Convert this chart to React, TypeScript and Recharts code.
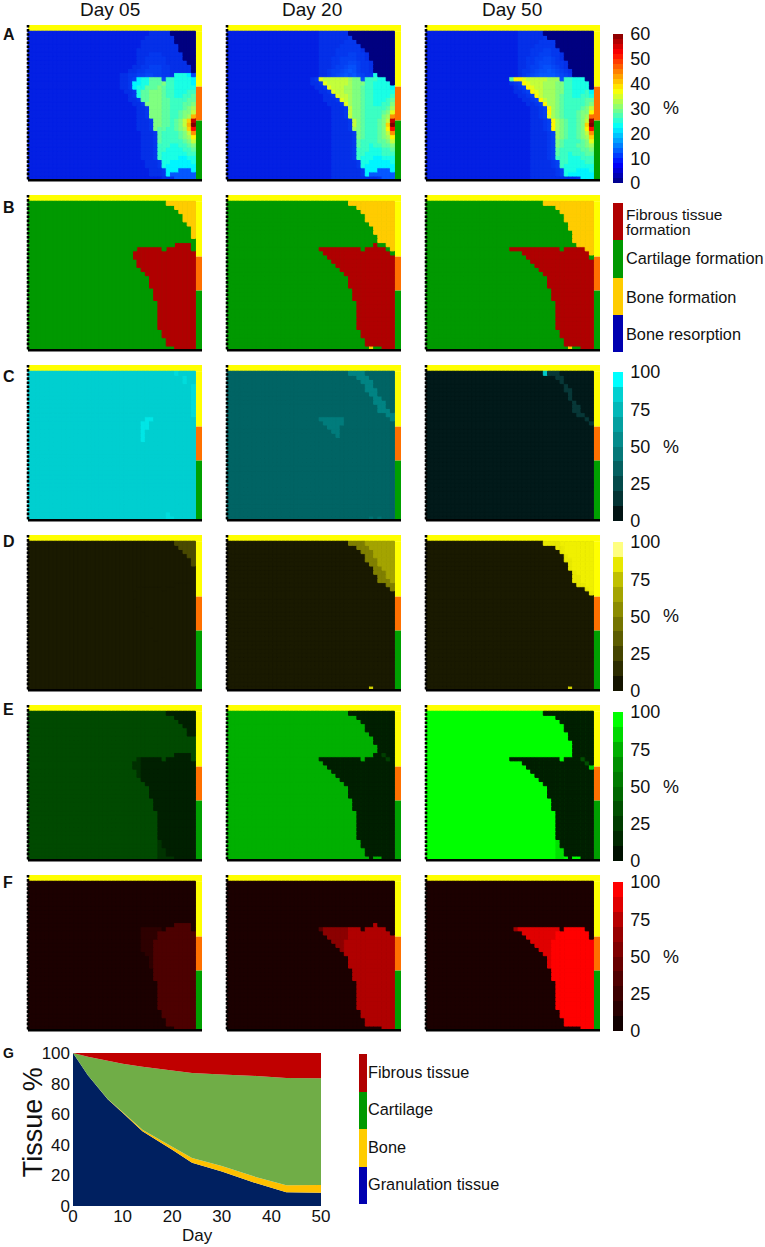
import { Area, AreaChart, Bar, BarChart, Cell, ComposedChart, ReferenceArea, XAxis, YAxis } from 'recharts';
import type { CSSProperties } from 'react';

const ROWS = 36;
const COLS = 40;
const X_MAX = 41.55;
const Y_MAX = 37.5;
const columns = Array.from({ length: COLS }, (_, i) => i);

// tissue region outlines, in grid cells, one value per column
const wedgeBottom05 = [0,0,0,0,0,0,0,0,0,0,0,0,0,0,0,0,0,0,0,0,0,0,0,0,0,22,20,19,18,15,12,5,3,1,1,0,0,0,0,0];
const wedgeTop05 = [0,0,0,0,0,0,0,0,0,0,0,0,0,0,0,0,0,0,0,0,0,0,0,0,0,24,25,25,25,25,25,25,24,25,25,26,26,26,26,24];
const cap05 = [0,0,0,0,0,0,0,0,0,0,0,0,0,0,0,0,0,0,0,0,0,0,0,0,0,0,0,0,0,0,0,0,0,1,1,2,3,5,6,9];
const capSmallD05 = [0,0,0,0,0,0,0,0,0,0,0,0,0,0,0,0,0,0,0,0,0,0,0,0,0,0,0,0,0,0,0,0,0,0,0,1,2,3,4,6];
const capSmallE05 = [0,0,0,0,0,0,0,0,0,0,0,0,0,0,0,0,0,0,0,0,0,0,0,0,0,0,0,0,0,0,0,0,0,1,1,2,3,4,6,6];

const wedgeBottom20 = [0,0,0,0,0,0,0,0,0,0,0,0,0,0,0,0,0,0,0,0,0,0,24,23,22,21,20,19,18,15,12,5,3,1,1,1,1,0,0,0];
const wedgeTop20 = [0,0,0,0,0,0,0,0,0,0,0,0,0,0,0,0,0,0,0,0,0,0,25,25,25,25,25,25,25,25,25,25,24,25,25,26,25,25,24,23];
const cap20 = [0,0,0,0,0,0,0,0,0,0,0,0,0,0,0,0,0,0,0,0,0,0,0,0,0,0,0,0,0,1,1,2,3,5,6,8,10,10,11,12];
const capInner20 = [0,0,0,0,0,0,0,0,0,0,0,0,0,0,0,0,0,0,0,0,0,0,0,0,0,0,0,0,0,0,0,0,0,1,2,4,6,7,9,10];

const wedgeBottom50 = [0,0,0,0,0,0,0,0,0,0,0,0,0,0,0,0,0,0,0,0,24,24,24,23,22,21,20,19,18,15,12,5,3,1,1,1,1,0,0,0];
const wedgeTop50 = [0,0,0,0,0,0,0,0,0,0,0,0,0,0,0,0,0,0,0,0,25,25,25,25,25,25,25,25,25,25,25,25,24,25,25,25,25,25,24,22];
const cap50 = [0,0,0,0,0,0,0,0,0,0,0,0,0,0,0,0,0,0,0,0,0,0,0,0,0,0,0,0,1,1,1,2,3,5,7,10,11,11,12,13];
const capInner50 = [0,0,0,0,0,0,0,0,0,0,0,0,0,0,0,0,0,0,0,0,0,0,0,0,0,0,0,0,0,0,0,0,1,3,4,7,8,10,11,12];

// panel A strain grids: top row first, columns 20-39, one base-36 digit = value / 2
const heat05 = [
  '44444444455555000000','44444444555555500000','44444445555555500000','44444445555555550000',
  '44444455555555550000','44444455566655555000','44444455666665555000','44444455666665555500',
  '44444556677766555550','44445566777766555550','445566778877665cccb8','445567bcceee8ddccccb',
  '44556bbcceeefddccccb','44556bcceeefeddccccc','444556ceefffeddcccdd','444456ceefffeddccdde',
  '4444556eefffeeddddee','44444556ffffeedddeef','444444556fffeedddefg','444444556fffeeddeffh',
  '444444556fffeeddefgl','4444445556ffeedefhks','4444445556ffeedefhlu','4444445556feeddefgkq',
  '44444445556eddddefhm','44444445556eddddefgj','44444445556edddddefh','44444445556dddccddef',
  '44444445556ddccccdde','44444445556dccccccdd','44444445556dccccbbcc','444444445556ccbbbbbc',
  '444444445556cbbbbbbb','4444444445556bbbaaab','4444444445556baaaaaa','444444444444555aaaaa',
];
const heat20 = [
  '44555555500000000000','44555555560000000000','44555555666000000000','44555556666600000000',
  '44555566666650000000','44555566677665000000','44555667777665000000','44555667788766500000',
  '44555677899766500000','445567789a9766500000','44556789a9a8766c0000','56ihhhhhhgff9dddcc00',
  '556ihhhhhgfffddcccc0','4556ihhhggffeddccccb','44556ihhggffeddccccc','444556ihhgffeddccccd',
  '4445556ihgffeddcccde','44445556igffeddccddf','444445556hffedddddeg','444445556hffeddddefi',
  '444445556hffeddddfgm','4444455556hfedddefhs','4444455556hfedddefku','4444455556gfedddefjq',
  '44444555556fedddefhm','44444555556fedddefgj','44444555556eddddeefh','44444555556eddcddeef',
  '44444555556dddcccdde','44444555556ddccccddd','44444555556dcccbbccc','444445555556ccbbbbbc',
  '444445555556cbbbbbbb','4444455555556bbbaaab','4444455555556baaaaaa','44444555555555556aaa',
];
const heat50 = [
  '44555555000000000000','44555555600000000000','44555556666000000000','44555566666000000000',
  '44555666776600000000','44555667776650000000','44556677887650000000','44556678887665000000',
  '44556778998765000000','445667899a9876500000','4456789aaaa987600000','ejjihhhhhggg9ddccc00',
  '567jihhhgggffddcccc0','4567jihhgggffddcccc0','45567jihgggffddcccdb','445567jhgggfeddccddc',
  '4445567jhggfedddddee','44445567jggfedddddef','444445567jgfeddddefh','444445567jgfedddeffj',
  '444445567igfedddefgn','4444455567jgfeddefht','4444455567jgfeddefku','4444455567jgfeddefjq',
  '44444555567gfeddefhm','44444555567gfeddefgk','44444555567feddddefi','44444555567fedddeefg',
  '44444555567edddddeef','44444555567eddcdddee','44444555567dddcccddd','444445555567ddccccdd',
  '444445555567dccccccc','4444455555567cccbbbc','4444455555567cbbbbbb','44444555555555556bbb',
];
// the deep blue end of the reference's map, digits 4 to a
const blueShades = ['#0420e4', '#0530e8', '#0538ee', '#0540f2', '#0648f6', '#0650fa', '#0658ff'];

// panel G
const days = [0, 3, 7, 10, 14, 20, 24, 30, 37, 43, 50];
const granulation = [100, 85.4, 69.7, 61, 48.8, 36.8, 28.3, 22.6, 14.8, 9, 8.7];
const bone = [0, 0.1, 0.3, 0.5, 1, 2, 3, 3.5, 4, 4.5, 5];
const cartilage = [0, 12, 25, 31.5, 41.2, 49.7, 55.7, 59.9, 66.2, 70.2, 69.8];
const fibrous = [0, 2.5, 5, 7, 9, 11.5, 13, 14, 15, 16.3, 16.5];

const cyanLevels = ['#021414','#033333','#044a4a','#056060','#067878','#058c8c','#04a0a0','#03b8b8','#02d0d0','#00ffff'];
const yellowLevels = ['#141400','#2c2c00','#444400','#5c5c00','#747400','#8c8c00','#a4a400','#c0c000','#e8e800','#ffff80'];
const greenLevels = ['#001000','#002800','#003c00','#005000','#006800','#007c00','#009000','#00b000','#00d800','#00ff00'];
const redLevels = ['#100000','#280000','#3c0000','#500000','#680000','#800000','#980000','#b80000','#e00000','#ff0000'];
const percentTicks = [0, 25, 50, 75, 100];
const strainTicks = [0, 10, 20, 30, 40, 50, 60];

const stimulusLevels = ['#0000b0', '#ffcc00', '#009900', '#b00000'];
const stimulusLabels = [
  { text: 'Cartilage formation', y: 258.3 },
  { text: 'Bone formation', y: 297.3 },
  { text: 'Bone resorption', y: 334.3 },
];
const tissueLabels = [
  { text: 'Fibrous tissue', y: 1073 },
  { text: 'Cartilage', y: 1110 },
  { text: 'Bone', y: 1148 },
  { text: 'Granulation tissue', y: 1185 },
];

type Stops = [number, string][];
type Band = { heights: number[]; colors: string[] };
type Patch = { c: number; r: number; h: number; w?: number; color: string };
type Shape = { bottom: number[]; top: number[]; cap: number[]; inner?: number[] };
type Look = { bg: string; wedge?: Stops; mid?: Stops; outer?: string; inner?: string };

const shape05: Shape = { bottom: wedgeBottom05, top: wedgeTop05, cap: cap05 };
const shape20: Shape = { bottom: wedgeBottom20, top: wedgeTop20, cap: cap20, inner: capInner20 };
const shape50: Shape = { bottom: wedgeBottom50, top: wedgeTop50, cap: cap50, inner: capInner50 };

const jet = (v: number) => {
  const t = v / 60;
  const ch = (x: number) => Math.round(Math.max(0, Math.min(1, x)) * 255);
  const r = ch(Math.min(4 * t - 1.5, -4 * t + 4.5));
  const g = ch(Math.min(4 * t - 0.5, -4 * t + 3.5));
  const b = ch(Math.min(4 * t + 0.5, -4 * t + 2.5));
  return `rgb(${r},${g},${b})`;
};

const pick = (stops: Stops | undefined, bg: string, col: number) => {
  let color = bg;
  (stops || []).forEach(([from, c]) => {
    if (col >= from) color = c;
  });
  return color;
};

const regionBands = (shape: Shape, look: Look, capOverride?: number[]): Band[] => {
  const cap = capOverride || shape.cap;
  const inner = capOverride ? columns.map(() => 0) : shape.inner || columns.map(() => 0);
  return [
    { heights: shape.bottom, colors: columns.map(() => look.bg) },
    { heights: columns.map((c) => shape.top[c] - shape.bottom[c]), colors: columns.map((c) => pick(look.wedge, look.bg, c)) },
    { heights: columns.map((c) => ROWS - shape.top[c] - cap[c]), colors: columns.map((c) => pick(look.mid, look.bg, c)) },
    { heights: columns.map((c) => cap[c] - inner[c]), colors: columns.map(() => look.outer || look.bg) },
    { heights: inner, colors: columns.map(() => look.inner || look.outer || look.bg) },
  ];
};

// spreads the bands into single cells so that the small patches can be written into them
const applyPatches = (bands: Band[], patches: Patch[]): Band[] => {
  const grid = Array.from({ length: ROWS }, () => columns.map(() => ''));
  columns.forEach((c) => {
    let row = 0;
    bands.forEach((b) => {
      for (let k = 0; k < b.heights[c]; k += 1) {
        if (row < ROWS) grid[row][c] = b.colors[c];
        row += 1;
      }
    });
  });
  patches.forEach((p) => {
    for (let r = p.r; r < p.r + p.h; r += 1) {
      for (let c = p.c; c < p.c + (p.w || 1); c += 1) {
        if (r < ROWS && c < COLS) grid[r][c] = p.color;
      }
    }
  });
  return grid.map((colors) => ({ heights: columns.map(() => 1), colors }));
};

const digitColor = (ch: string) => {
  const d = parseInt(ch, 36);
  if (d >= 4 && d <= 10) return blueShades[d - 4];
  return jet(d * 2);
};

const heatBands = (grid: string[]): Band[] =>
  [...grid].reverse().map((row) => ({
    heights: columns.map(() => 1),
    colors: columns.map((c) => digitColor(c < 20 ? '4' : row[c - 20] || '4')),
  }));

function HeatPanel({ left, top, bands, patches }: { left: number; top: number; bands: Band[]; patches?: Patch[] }) {
  const cells = patches ? applyPatches(bands, patches) : bands;
  const data = columns.map((c) => {
    const row: Record<string, number> = { x: c + 0.5 };
    cells.forEach((b, i) => {
      row[`b${i}`] = b.heights[c];
    });
    return row;
  });
  return (
    <div style={{ position: 'absolute', left: left - 3, top, filter: 'blur(0.3px)' }}>
      <ComposedChart width={177.1} height={158.2} data={data} margin={{ top: 0, right: 0, bottom: 0, left: 0 }} barCategoryGap={0} barGap={0}>
        <XAxis type="number" dataKey="x" domain={[0, X_MAX]} height={3} tick={false} tickLine={false} axisLine={{ stroke: '#000', strokeWidth: 2.4 }} />
        <YAxis type="number" domain={[0, Y_MAX]} width={3} tick={false} tickLine={false} axisLine={{ stroke: '#000', strokeWidth: 2.6, strokeDasharray: '2.6 1.5' }} />
        <ReferenceArea x1={0} x2={COLS} y1={0} y2={ROWS} fill={bands[0].colors[0]} fillOpacity={1} stroke="none" />
        {cells.map((b, i) => (
          <Bar key={i} dataKey={`b${i}`} stackId="cells" isAnimationActive={false}>
            {columns.map((c) => (
              <Cell key={c} fill={b.colors[c]} stroke={b.colors[c]} strokeWidth={1} />
            ))}
          </Bar>
        ))}
        <ReferenceArea x1={0} x2={X_MAX} y1={ROWS} y2={Y_MAX} fill="#ffff00" fillOpacity={1} stroke="none" />
        <ReferenceArea x1={COLS} x2={X_MAX} y1={22.6} y2={ROWS} fill="#ffff00" fillOpacity={1} stroke="none" />
        <ReferenceArea x1={COLS} x2={X_MAX} y1={14.4} y2={22.6} fill="#ff7000" fillOpacity={1} stroke="none" />
        <ReferenceArea x1={COLS} x2={X_MAX} y1={0} y2={14.4} fill="#00a000" fillOpacity={1} stroke="none" />
      </ComposedChart>
    </div>
  );
}

function ColorBar({ top, levels, step, max, ticks }: { top: number; levels: string[]; step: number; max: number; ticks?: number[] }) {
  const row: Record<string, number> = {};
  levels.forEach((_, i) => {
    row[`s${i}`] = step;
  });
  return (
    <div style={{ position: 'absolute', left: 613, top: top - 12, shapeRendering: 'crispEdges' }}>
      <BarChart width={56} height={173} data={[row]} margin={{ top: 12, right: 0, bottom: 12, left: 0 }} barCategoryGap={0}>
        <XAxis hide />
        <YAxis
          orientation="right"
          type="number"
          domain={[0, max]}
          ticks={ticks || []}
          width={45.7}
          axisLine={false}
          tickLine={false}
          tickSize={0}
          tickMargin={7}
          interval={0}
          tick={{ fill: '#111', fontSize: 18, fontFamily: 'Liberation Sans' }}
        />
        {levels.map((color, i) => (
          <Bar key={i} dataKey={`s${i}`} stackId="bar" fill={color} isAnimationActive={false} />
        ))}
      </BarChart>
    </div>
  );
}

const text = (left: number, y: number, size: number, extra: CSSProperties = {}): CSSProperties => ({
  position: 'absolute',
  left,
  top: y - size * 0.6,
  fontSize: size,
  lineHeight: `${size * 1.2}px`,
  fontFamily: 'Liberation Sans',
  color: '#111',
  whiteSpace: 'nowrap',
  ...extra,
});

const jetLevels = Array.from({ length: 30 }, (_, i) => jet(i * 2 + 1));
const tissueData = days.map((day, i) => ({
  day,
  granulation: granulation[i],
  bone: bone[i],
  cartilage: cartilage[i],
  fibrous: fibrous[i],
}));

const LEFTS = [27.7, 226.7, 425.7];
const ROW_TOPS = [25, 195, 365, 535, 704.5, 874.5];

const panelRows: { bands: Band[]; patches?: Patch[] }[][] = [
  [{ bands: heatBands(heat05) }, { bands: heatBands(heat20) }, { bands: heatBands(heat50) }],
  [
    { bands: regionBands(shape05, { bg: '#009900', wedge: [[0, '#b00000']], outer: '#ffcc00' }) },
    {
      bands: regionBands({ ...shape20, inner: undefined }, { bg: '#009900', wedge: [[0, '#b00000']], outer: '#ffcc00' }),
      patches: [{ c: 34, r: 0, h: 1, color: '#ffcc00' }],
    },
    {
      bands: regionBands({ ...shape50, inner: undefined }, { bg: '#009900', wedge: [[0, '#b00000']], outer: '#ffcc00' }),
      patches: [{ c: 34, r: 0, h: 1, color: '#ffcc00' }],
    },
  ],
  [
    {
      bands: regionBands(shape05, { bg: '#00cfd0' }),
      patches: [
        { c: 27, r: 19, h: 5, color: '#00e6e6' },
        { c: 28, r: 22, h: 3, color: '#00e6e6' },
        { c: 29, r: 24, h: 1, color: '#00e6e6' },
        { c: 39, r: 25, h: 8, color: '#00dcdc' },
        { c: 37, r: 33, h: 2, color: '#00dcdc' },
        { c: 35, r: 35, h: 1, color: '#00dcdc' },
        { c: 33, r: 0, h: 1, w: 2, color: '#00dcdc' },
        { c: 33, r: 1, h: 1, color: '#00dcdc' },
      ],
    },
    {
      bands: regionBands(shape20, { bg: '#006464', outer: '#008484', inner: '#006464' }),
      patches: [
        { c: 22, r: 24, h: 1, w: 6, color: '#007c7c' },
        { c: 23, r: 23, h: 1, w: 5, color: '#007c7c' },
        { c: 24, r: 22, h: 1, w: 3, color: '#007c7c' },
        { c: 25, r: 21, h: 1, w: 2, color: '#007c7c' },
        { c: 26, r: 20, h: 1, color: '#007c7c' },
        { c: 34, r: 0, h: 1, color: '#007272' },
        { c: 36, r: 0, h: 1, color: '#007272' },
      ],
    },
    {
      bands: regionBands(shape50, { bg: '#021a1a', outer: '#083838', inner: '#021a1a' }),
      patches: [{ c: 28, r: 35, h: 1, color: '#00c8c8' }],
    },
  ],
  [
    { bands: regionBands(shape05, { bg: '#1a1a00', outer: '#4a4a00' }, capSmallD05) },
    {
      bands: regionBands(shape20, { bg: '#1a1a00', outer: '#808000', inner: '#a4a400' }),
      patches: [{ c: 34, r: 0, h: 1, color: '#d0d000' }],
    },
    {
      bands: regionBands(shape50, { bg: '#1a1a00', outer: '#e8e800', inner: '#f0f000' }),
      patches: [{ c: 34, r: 0, h: 1, color: '#d0d000' }],
    },
  ],
  [
    {
      bands: regionBands(shape05, { bg: '#004a00', wedge: [[0, '#003000'], [27, '#002000']], outer: '#002000' }, capSmallE05),
      patches: [
        { c: 31, r: 0, h: 5, color: '#003400' },
        { c: 32, r: 0, h: 3, color: '#003400' },
        { c: 33, r: 0, h: 1, w: 2, color: '#003400' },
      ],
    },
    {
      bands: regionBands(shape20, { bg: '#00b000', wedge: [[0, '#001f00']], mid: [[36, '#001f00']], outer: '#001f00' }),
      patches: [
        { c: 37, r: 25, h: 1, color: '#004000' },
        { c: 38, r: 24, h: 1, color: '#004000' },
        { c: 34, r: 0, h: 1, color: '#001f00' },
      ],
    },
    {
      bands: regionBands(shape50, { bg: '#00ff00', wedge: [[0, '#001f00']], mid: [[35, '#001f00']], outer: '#001f00' }),
      patches: [
        { c: 37, r: 24, h: 1, color: '#005000' },
        { c: 38, r: 23, h: 1, color: '#005000' },
        { c: 39, r: 22, h: 1, color: '#00d000' },
        { c: 34, r: 0, h: 1, color: '#001f00' },
        { c: 31, r: 0, h: 5, color: '#00e000' },
        { c: 32, r: 0, h: 3, color: '#00e000' },
      ],
    },
  ],
  [
    {
      bands: regionBands(shape05, { bg: '#1c0000', wedge: [[27, '#2e0000'], [30, '#4d0000']] }),
      patches: [
        { c: 30, r: 22, h: 3, color: '#2e0000' },
        { c: 31, r: 24, h: 1, color: '#2e0000' },
      ],
    },
    {
      bands: regionBands(shape20, { bg: '#1c0000', wedge: [[22, '#5a0000'], [23, '#8c0000'], [29, '#b00000']] }),
      patches: [{ c: 28, r: 18, h: 4, color: '#b00000' }],
    },
    {
      bands: regionBands(shape50, { bg: '#1c0000', wedge: [[21, '#a00000'], [22, '#e00000'], [30, '#ff0000']] }),
      patches: [
        { c: 30, r: 22, h: 3, color: '#e00000' },
        { c: 31, r: 24, h: 1, color: '#e00000' },
      ],
    },
  ],
];

export default function App() {
  return (
    <div style={{ position: 'absolute', left: 0, top: 0, width: 765, height: 1247, background: '#fff', overflow: 'hidden' }}>
      <div style={text(80, 10, 19)}>Day 05</div>
      <div style={text(282, 10, 19)}>Day 20</div>
      <div style={text(482, 10, 19)}>Day 50</div>

      {['A', 'B', 'C', 'D', 'E', 'F'].map((letter, i) => (
        <div key={letter} style={text(3, [35, 208, 377, 542, 710, 883][i], 16, { fontWeight: 700 })}>
          {letter}
        </div>
      ))}
      <div style={text(3, 1053, 14, { fontWeight: 700 })}>G</div>

      {panelRows.map((row, r) =>
        row.map((p, c) => <HeatPanel key={`${r}-${c}`} left={LEFTS[c]} top={ROW_TOPS[r]} bands={p.bands} patches={p.patches} />),
      )}

      <ColorBar top={33.5} levels={jetLevels} step={2} max={60} ticks={strainTicks} />
      <ColorBar top={203} levels={stimulusLevels} step={1} max={4} />
      <ColorBar top={372} levels={cyanLevels} step={10} max={100} ticks={percentTicks} />
      <ColorBar top={542} levels={yellowLevels} step={10} max={100} ticks={percentTicks} />
      <ColorBar top={712} levels={greenLevels} step={10} max={100} ticks={percentTicks} />
      <ColorBar top={882} levels={redLevels} step={10} max={100} ticks={percentTicks} />

      {[109, 447.7, 617, 787.7, 957.7].map((y) => (
        <div key={y} style={text(663, y, 18)}>%</div>
      ))}
      <div style={{ ...text(626, 215.7, 15.5), top: 206.5, lineHeight: '15.5px' }}>
        Fibrous tissue
        <br />
        formation
      </div>
      {stimulusLabels.map((l) => (
        <div key={l.text} style={text(626, l.y, 16.3)}>{l.text}</div>
      ))}

      <div style={{ position: 'absolute', left: 12.7, top: 1040.7 }}>
        <AreaChart width={328} height={205} data={tissueData} margin={{ top: 12, right: 20, bottom: 10, left: 0 }}>
          <XAxis
            type="number"
            dataKey="day"
            domain={[0, 50]}
            ticks={[0, 10, 20, 30, 40, 50]}
            height={30}
            axisLine={false}
            tickLine={false}
            tickSize={0}
            tickMargin={4}
            interval={0}
            tick={{ fill: '#111', fontSize: 17, fontFamily: 'Liberation Sans' }}
          />
          <YAxis
            type="number"
            domain={[0, 100]}
            ticks={[0, 20, 40, 60, 80, 100]}
            width={60}
            axisLine={false}
            tickLine={false}
            tickSize={0}
            tickMargin={3}
            interval={0}
            tick={{ fill: '#111', fontSize: 17, fontFamily: 'Liberation Sans' }}
          />
          <Area dataKey="granulation" stackId="t" type="linear" fill="#002060" fillOpacity={1} stroke="none" isAnimationActive={false} />
          <Area dataKey="bone" stackId="t" type="linear" fill="#ffc000" fillOpacity={1} stroke="none" isAnimationActive={false} />
          <Area dataKey="cartilage" stackId="t" type="linear" fill="#70ad47" fillOpacity={1} stroke="none" isAnimationActive={false} />
          <Area dataKey="fibrous" stackId="t" type="linear" fill="#c00000" fillOpacity={1} stroke="none" isAnimationActive={false} />
        </AreaChart>
      </div>
      <div style={text(182, 1236, 17)}>Day</div>
      <div style={text(33, 1122, 27, { transform: 'translate(-50%, 0) rotate(-90deg)' })}>Tissue %</div>

      <div style={{ position: 'absolute', left: 358.7, top: 1054, width: 8, height: 150, display: 'flex', flexDirection: 'column' }}>
        <div style={{ flex: 1, background: '#b00000' }} />
        <div style={{ flex: 1, background: '#009900' }} />
        <div style={{ flex: 1, background: '#ffcc00' }} />
        <div style={{ flex: 1, background: '#0000b0' }} />
      </div>
      {tissueLabels.map((l) => (
        <div key={l.text} style={text(368, l.y, 16.3)}>{l.text}</div>
      ))}
    </div>
  );
}
